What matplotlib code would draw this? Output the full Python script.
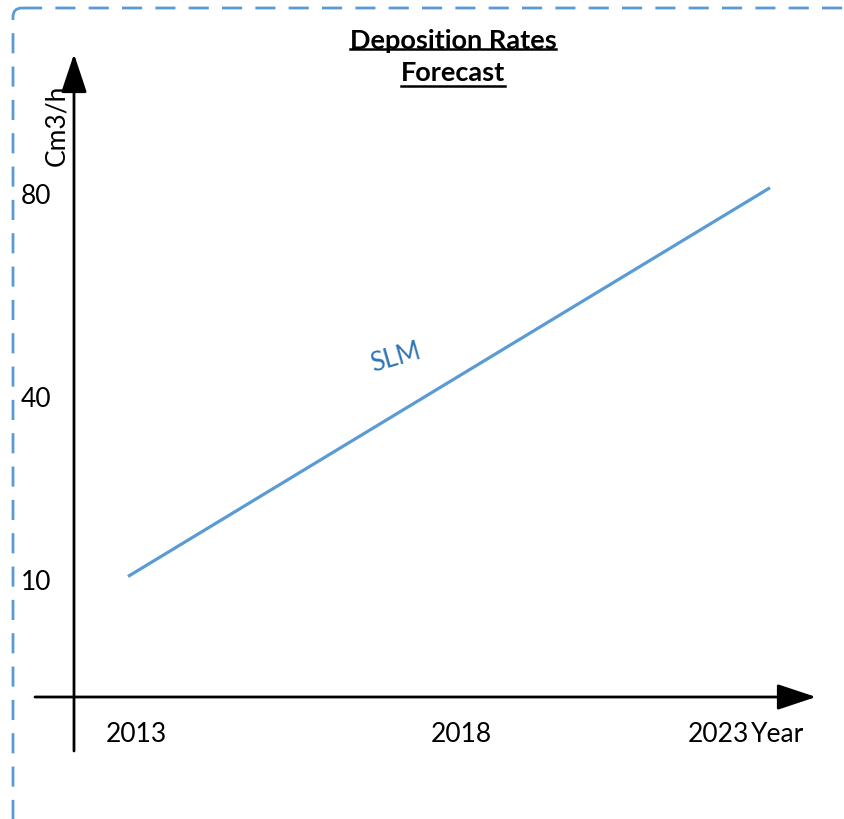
import matplotlib
matplotlib.use("Agg")
import matplotlib.pyplot as plt
from matplotlib.patches import FancyBboxPatch
from matplotlib.transforms import Affine2D

W, H = 845, 820

# chart data
years = [2013, 2023]
rates = [11, 81.5]
xtick_labels = ["2013", "2018", "2023"]
ytick_labels = ["10", "40", "80"]
series_name = "SLM"
title_lines = ["Deposition Rates", "Forecast"]
y_unit = "Cm3/h"
x_unit = "Year"

plt.rcParams['font.family'] = ['Lato', 'DejaVu Sans']
plt.rcParams['lines.scale_dashes'] = False

fig = plt.figure(figsize=(W / 100, H / 100), dpi=100)
ax = fig.add_axes([0, 0, 1, 1])
ax.axis('off')

# data scale: 2013 -> 128px, 2023 -> 770px ; 10 -> 583px, 80 -> 197px (y down)
sx = (770 - 128) / 10
sy = (583 - 197) / 70
ax.set_xlim(2013 - 128 / sx, 2013 + (W - 128) / sx)
ax.set_ylim(10 - (H - 583) / sy, 80 + 197 / sy)

# pixel transform (origin top-left, y down) for the decorations
px = Affine2D().scale(1 / W, -1 / H).translate(0, 1) + ax.transAxes

# dashed frame
frame = FancyBboxPatch((13, 9), 1000, 1000, boxstyle="round,pad=0,rounding_size=9",
                       transform=px, fill=False, edgecolor="#5b9bd5", lw=2.0,
                       linestyle=(0, (14.5, 9.5)))
ax.add_patch(frame)

# axes arrows
arrow = dict(arrowstyle="-|>,head_length=1.2,head_width=0.4", color="black",
             lw=2, mutation_scale=20, shrinkA=0, shrinkB=0)
ax.annotate("", xy=(816, 698), xytext=(35, 698), xycoords=px, textcoords=px,
            arrowprops=arrow)
ax.annotate("", xy=(74, 55), xytext=(74, 752), xycoords=px, textcoords=px,
            arrowprops=arrow)

# the series
ax.plot(years, rates, color="#5b9bd5", lw=2.3, solid_capstyle="butt")
ax.text(396, 358, series_name, transform=px, color="#2e75b6", fontsize=18.5,
        rotation=16, ha="center", va="center", rotation_mode="anchor")

# tick labels
ytick_px = [583, 400, 197]
for lab, yp in zip(ytick_labels, ytick_px):
    ax.text(21, yp, lab, transform=px, fontsize=19, ha="left", va="center")
xtick_px = [136, 461, 718]
for lab, xp in zip(xtick_labels, xtick_px):
    ax.text(xp, 735, lab, transform=px, fontsize=19, ha="center", va="center")
ax.text(751, 735, x_unit, transform=px, fontsize=19, ha="left", va="center")
ax.text(57, 125, y_unit, transform=px, fontsize=19, rotation=90,
        ha="center", va="center")

# title with underline
title_y = [41, 73]
under_y = [50, 87]
texts = []
for line, ty in zip(title_lines, title_y):
    texts.append(ax.text(453, ty, line, transform=px, fontsize=19.5,
                         fontweight="bold", ha="center", va="center"))
fig.canvas.draw()
r = fig.canvas.get_renderer()
for t, uy in zip(texts, under_y):
    bb = t.get_window_extent(renderer=r)
    ax.plot([bb.x0, bb.x1], [uy, uy], transform=px, color="black", lw=1.8)

fig.savefig("out.png", dpi=100)
